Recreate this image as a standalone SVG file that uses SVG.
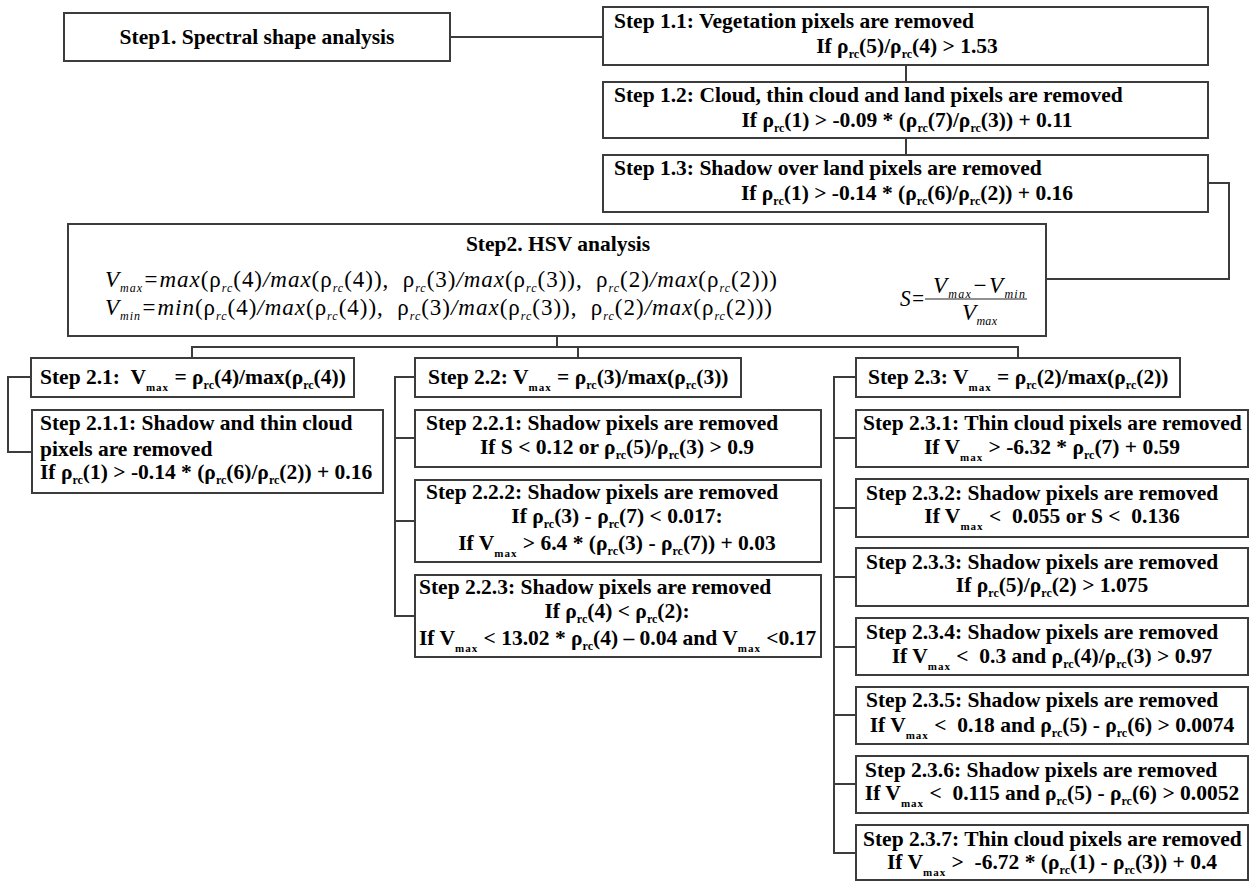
<svg xmlns="http://www.w3.org/2000/svg" width="1250" height="881" viewBox="0 0 1250 881">
<style>
.bx{fill:#fff;stroke:#3c3c3c;stroke-width:2}
.cn{fill:none;stroke:#3c3c3c;stroke-width:2}
.t{font-family:"Liberation Serif","Times New Roman",serif;font-weight:bold;font-size:21.5px;fill:#000}
.c{text-anchor:middle}
.s{font-size:12px}
.sm{font-size:11px;letter-spacing:1px}
.m{font-family:"Liberation Serif","Times New Roman",serif;font-size:23px;fill:#000}
.i{font-style:italic}
.ms{font-size:12px;font-style:italic}
</style>
<rect width="1250" height="881" fill="#fff"/>
<g id="connectors">
<path class="cn" d="M450 37H603"/>
<path class="cn" d="M906 65V82"/>
<path class="cn" d="M906 138V155"/>
<path class="cn" d="M1208 183H1229V279H1046"/>
<path class="cn" d="M557 336V347"/>
<path class="cn" d="M192 358V347H1018V358"/>
<path class="cn" d="M578 347V358"/>
<path class="cn" d="M31 377H8V452H32"/>
<path class="cn" d="M415 377H395V616H415M395 438H415M395 521H415"/>
<path class="cn" d="M856 377H834V853H856M834 438H856M834 508H856M834 577H856M834 647H856M834 715H856M834 784H856"/>
</g>
<g id="step1">
<rect class="bx" x="64" y="13" width="386" height="48"/>
<text class="t c" x="257" y="44">Step1. Spectral shape analysis</text>
</g>
<g id="step1_1">
<rect class="bx" x="603" y="7" width="605" height="58"/>
<text class="t" x="614" y="28">Step 1.1: Vegetation pixels are removed</text>
<text class="t c" x="907" y="53">If ρ<tspan class="s" dy="5">rc</tspan><tspan dy="-5">(5)/ρ</tspan><tspan class="s" dy="5">rc</tspan><tspan dy="-5">(4) &gt; 1.53</tspan></text>
</g>
<g id="step1_2">
<rect class="bx" x="603" y="82" width="605" height="56"/>
<text class="t" x="614" y="102">Step 1.2: Cloud, thin cloud and land pixels are removed</text>
<text class="t c" x="907" y="127">If ρ<tspan class="s" dy="5">rc</tspan><tspan dy="-5">(1) &gt; -0.09 * (ρ</tspan><tspan class="s" dy="5">rc</tspan><tspan dy="-5">(7)/ρ</tspan><tspan class="s" dy="5">rc</tspan><tspan dy="-5">(3)) + 0.11</tspan></text>
</g>
<g id="step1_3">
<rect class="bx" x="603" y="155" width="605" height="57"/>
<text class="t" x="614" y="175">Step 1.3: Shadow over land pixels are removed</text>
<text class="t c" x="907" y="200">If ρ<tspan class="s" dy="5">rc</tspan><tspan dy="-5">(1) &gt; -0.14 * (ρ</tspan><tspan class="s" dy="5">rc</tspan><tspan dy="-5">(6)/ρ</tspan><tspan class="s" dy="5">rc</tspan><tspan dy="-5">(2)) + 0.16</tspan></text>
</g>
<g id="step2">
<rect class="bx" x="68" y="224" width="978" height="112"/>
<text class="t c" x="558" y="251">Step2. HSV analysis</text>
<text class="m" x="105" y="287" textLength="672" lengthAdjust="spacing"><tspan class="i">V</tspan><tspan class="ms" dy="5">max</tspan><tspan class="i" dy="-5">=max</tspan>(ρ<tspan class="ms" dy="5">rc</tspan><tspan dy="-5">(4)</tspan><tspan class="i">/max</tspan>(ρ<tspan class="ms" dy="5">rc</tspan><tspan dy="-5">(4)),&#160; ρ</tspan><tspan class="ms" dy="5">rc</tspan><tspan dy="-5">(3)</tspan><tspan class="i">/max</tspan>(ρ<tspan class="ms" dy="5">rc</tspan><tspan dy="-5">(3)),&#160; ρ</tspan><tspan class="ms" dy="5">rc</tspan><tspan dy="-5">(2)</tspan><tspan class="i">/max</tspan>(ρ<tspan class="ms" dy="5">rc</tspan><tspan dy="-5">(2)))</tspan></text>
<text class="m" x="105" y="315" textLength="667" lengthAdjust="spacing"><tspan class="i">V</tspan><tspan class="ms" dy="5">min</tspan><tspan class="i" dy="-5">=min</tspan>(ρ<tspan class="ms" dy="5">rc</tspan><tspan dy="-5">(4)</tspan><tspan class="i">/max</tspan>(ρ<tspan class="ms" dy="5">rc</tspan><tspan dy="-5">(4)),&#160; ρ</tspan><tspan class="ms" dy="5">rc</tspan><tspan dy="-5">(3)</tspan><tspan class="i">/max</tspan>(ρ<tspan class="ms" dy="5">rc</tspan><tspan dy="-5">(3)),&#160; ρ</tspan><tspan class="ms" dy="5">rc</tspan><tspan dy="-5">(2)</tspan><tspan class="i">/max</tspan>(ρ<tspan class="ms" dy="5">rc</tspan><tspan dy="-5">(2)))</tspan></text>
<text class="m i" x="900" y="306" textLength="25" lengthAdjust="spacingAndGlyphs">S=</text>
<path class="cn" d="M925 299H1027" style="stroke-width:1.2;stroke:#222"/>
<text class="m i" x="933" y="293" textLength="92" lengthAdjust="spacing">V<tspan class="ms" dy="5">max</tspan><tspan dy="-5">−V</tspan><tspan class="ms" dy="5">min</tspan></text>
<text class="m i" x="962" y="320" textLength="35" lengthAdjust="spacing">V<tspan class="ms" dy="5">max</tspan></text>
</g>
<g id="step2_1">
<rect class="bx" x="31" y="358" width="323" height="39"/>
<text class="t" x="40" y="384">Step 2.1:&#160; V<tspan class="sm" dy="7">max</tspan><tspan dy="-7"> = ρ</tspan><tspan class="s" dy="5">rc</tspan><tspan dy="-5">(4)/max(ρ</tspan><tspan class="s" dy="5">rc</tspan><tspan dy="-5">(4))</tspan></text>
</g>
<g id="step2_1_1">
<rect class="bx" x="32" y="410" width="351" height="83"/>
<text class="t" x="40" y="430">Step 2.1.1: Shadow and thin cloud</text>
<text class="t" x="40" y="456">pixels are removed</text>
<text class="t" x="40" y="479">If ρ<tspan class="s" dy="5">rc</tspan><tspan dy="-5">(1) &gt; -0.14 * (ρ</tspan><tspan class="s" dy="5">rc</tspan><tspan dy="-5">(6)/ρ</tspan><tspan class="s" dy="5">rc</tspan><tspan dy="-5">(2)) + 0.16</tspan></text>
</g>
<g id="step2_2">
<rect class="bx" x="415" y="358" width="326" height="39"/>
<text class="t" x="428" y="384">Step 2.2: V<tspan class="sm" dy="7">max</tspan><tspan dy="-7"> = ρ</tspan><tspan class="s" dy="5">rc</tspan><tspan dy="-5">(3)/max(ρ</tspan><tspan class="s" dy="5">rc</tspan><tspan dy="-5">(3))</tspan></text>
</g>
<g id="step2_2_1">
<rect class="bx" x="415" y="410" width="406" height="57"/>
<text class="t" x="426" y="430">Step 2.2.1: Shadow pixels are removed</text>
<text class="t c" x="617" y="454">If S &lt; 0.12 or ρ<tspan class="s" dy="5">rc</tspan><tspan dy="-5">(5)/ρ</tspan><tspan class="s" dy="5">rc</tspan><tspan dy="-5">(3) &gt; 0.9</tspan></text>
</g>
<g id="step2_2_2">
<rect class="bx" x="415" y="480" width="406" height="82"/>
<text class="t" x="426" y="499">Step 2.2.2: Shadow pixels are removed</text>
<text class="t c" x="617" y="523">If ρ<tspan class="s" dy="5">rc</tspan><tspan dy="-5">(3) - ρ</tspan><tspan class="s" dy="5">rc</tspan><tspan dy="-5">(7) &lt; 0.017:</tspan></text>
<text class="t c" x="617" y="550">If V<tspan class="sm" dy="7">max</tspan><tspan dy="-7"> &gt; 6.4 * (ρ</tspan><tspan class="s" dy="5">rc</tspan><tspan dy="-5">(3) - ρ</tspan><tspan class="s" dy="5">rc</tspan><tspan dy="-5">(7)) + 0.03</tspan></text>
</g>
<g id="step2_2_3">
<rect class="bx" x="415" y="575" width="406" height="82"/>
<text class="t" x="419" y="594">Step 2.2.3: Shadow pixels are removed</text>
<text class="t c" x="617" y="618">If ρ<tspan class="s" dy="5">rc</tspan><tspan dy="-5">(4) &lt; ρ</tspan><tspan class="s" dy="5">rc</tspan><tspan dy="-5">(2):</tspan></text>
<text class="t" x="419" y="645">If V<tspan class="sm" dy="7">max</tspan><tspan dy="-7"> &lt; 13.02 * ρ</tspan><tspan class="s" dy="5">rc</tspan><tspan dy="-5">(4) – 0.04 and V</tspan><tspan class="sm" dy="7">max</tspan><tspan dy="-7"> &lt;0.17</tspan></text>
</g>
<g id="step2_3">
<rect class="bx" x="856" y="358" width="324" height="39"/>
<text class="t" x="868" y="384">Step 2.3: V<tspan class="sm" dy="7">max</tspan><tspan dy="-7"> = ρ</tspan><tspan class="s" dy="5">rc</tspan><tspan dy="-5">(2)/max(ρ</tspan><tspan class="s" dy="5">rc</tspan><tspan dy="-5">(2))</tspan></text>
</g>
<g id="step2_3_1">
<rect class="bx" x="856" y="410" width="392" height="57"/>
<text class="t" x="863" y="430">Step 2.3.1: Thin cloud pixels are removed</text>
<text class="t c" x="1052" y="454">If V<tspan class="sm" dy="7">max</tspan><tspan dy="-7"> &gt; -6.32 * ρ</tspan><tspan class="s" dy="5">rc</tspan><tspan dy="-5">(7) + 0.59</tspan></text>
</g>
<g id="step2_3_2">
<rect class="bx" x="856" y="479" width="392" height="58"/>
<text class="t" x="866" y="500">Step 2.3.2: Shadow pixels are removed</text>
<text class="t c" x="1052" y="523">If V<tspan class="sm" dy="7">max</tspan><tspan dy="-7"> &lt;&#160; 0.055 or S &lt;&#160; 0.136</tspan></text>
</g>
<g id="step2_3_3">
<rect class="bx" x="856" y="548" width="392" height="58"/>
<text class="t" x="866" y="569">Step 2.3.3: Shadow pixels are removed</text>
<text class="t c" x="1052" y="592">If ρ<tspan class="s" dy="5">rc</tspan><tspan dy="-5">(5)/ρ</tspan><tspan class="s" dy="5">rc</tspan><tspan dy="-5">(2) &gt; 1.075</tspan></text>
</g>
<g id="step2_3_4">
<rect class="bx" x="856" y="618" width="392" height="57"/>
<text class="t" x="866" y="639">Step 2.3.4: Shadow pixels are removed</text>
<text class="t c" x="1052" y="663">If V<tspan class="sm" dy="7">max</tspan><tspan dy="-7"> &lt;&#160; 0.3 and ρ</tspan><tspan class="s" dy="5">rc</tspan><tspan dy="-5">(4)/ρ</tspan><tspan class="s" dy="5">rc</tspan><tspan dy="-5">(3) &gt; 0.97</tspan></text>
</g>
<g id="step2_3_5">
<rect class="bx" x="856" y="687" width="392" height="57"/>
<text class="t" x="866" y="707">Step 2.3.5: Shadow pixels are removed</text>
<text class="t c" x="1052" y="732">If V<tspan class="sm" dy="7">max</tspan><tspan dy="-7"> &lt;&#160; 0.18 and ρ</tspan><tspan class="s" dy="5">rc</tspan><tspan dy="-5">(5) - ρ</tspan><tspan class="s" dy="5">rc</tspan><tspan dy="-5">(6) &gt; 0.0074</tspan></text>
</g>
<g id="step2_3_6">
<rect class="bx" x="856" y="756" width="392" height="57"/>
<text class="t" x="865" y="777">Step 2.3.6: Shadow pixels are removed</text>
<text class="t c" x="1052" y="800">If V<tspan class="sm" dy="7">max</tspan><tspan dy="-7"> &lt;&#160; 0.115 and ρ</tspan><tspan class="s" dy="5">rc</tspan><tspan dy="-5">(5) - ρ</tspan><tspan class="s" dy="5">rc</tspan><tspan dy="-5">(6) &gt; 0.0052</tspan></text>
</g>
<g id="step2_3_7">
<rect class="bx" x="856" y="825" width="392" height="55"/>
<text class="t" x="863" y="846">Step 2.3.7: Thin cloud pixels are removed</text>
<text class="t c" x="1052" y="869">If V<tspan class="sm" dy="7">max</tspan><tspan dy="-7"> &gt;&#160; -6.72 * (ρ</tspan><tspan class="s" dy="5">rc</tspan><tspan dy="-5">(1) - ρ</tspan><tspan class="s" dy="5">rc</tspan><tspan dy="-5">(3)) + 0.4</tspan></text>
</g>
</svg>
